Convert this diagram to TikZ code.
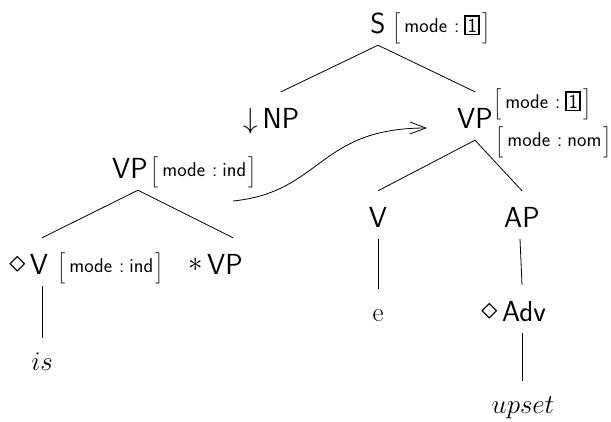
\documentclass[tikz,border=0pt]{standalone}
\usepackage{fix-cm}
\usepackage{amsmath}
\usetikzlibrary{arrows.meta}

% feature structures and boxed tags
\newcommand{\fbrack}[1]{{\fontsize{16}{18}\selectfont$\Big#1$}}
\newcommand{\feat}[2]{\fbrack{[}\hspace{4pt}#1\hspace{7pt}:\hspace{5pt}#2\hspace{2pt}\fbrack{]}}
\newcommand{\tagbox}[1]{{\setlength{\fboxsep}{1.5pt}\setlength{\fboxrule}{1.6pt}\fbox{#1}}}

\begin{document}
\begin{tikzpicture}[x=1pt, y=-1pt,
  cat/.style={font=\fontsize{29}{34}\selectfont\sffamily, text height=24pt, text depth=0pt,
              inner xsep=3pt, inner ysep=12pt, anchor=base},
  leaf/.style={font=\fontsize{27}{32}\selectfont, text height=20pt, text depth=0pt,
               inner xsep=3pt, inner ysep=12pt, anchor=base},
  feat/.style={font=\fontsize{20}{24}\selectfont\sffamily, inner sep=0pt, anchor=west},
  pre/.style={font=\fontsize{29}{34}\selectfont, inner sep=1pt, yshift=-3pt},
  branch/.style={line width=0.8pt},
  adjoin/.style={line width=0.8pt, -{Straight Barb[length=16pt,width=12pt]}}]
  \useasboundingbox (0,0) rectangle (611,421);

  % initial tree
  \node[cat] (S) at (378,33) {S};
  \node[feat] (fS) at (392,28) {\feat{mode}{\tagbox{1}}};
  \node[cat, label={[pre,yshift=-2pt]left:$\downarrow$}] (NP) at (281,128) {NP};
  \node[cat] (VPr) at (475,128) {VP};
  \node[feat] (fVPa) at (493,104) {\feat{mode}{\tagbox{1}}};
  \node[feat] (fVPb) at (495,142) {\feat{mode}{nom}};
  \node[cat] (Vr) at (378,227) {V};
  \node[cat] (AP) at (522,227) {AP};
  \node[leaf] (e) at (378,321) {e};
  \node[cat, label={[pre,font=\fontsize{33}{38}\selectfont]left:$\diamond$}] (Adv) at (524,321) {Adv};
  \node[leaf] (upset) at (523,413) {$upset$};

  \draw[branch] (S.south) -- (NP.north);
  \draw[branch] (S.south) -- (VPr.north);
  \draw[branch] (VPr.south) -- (Vr.north);
  \draw[branch] (VPr.south) -- (AP.north);
  \draw[branch] (Vr.south) -- (e.north);
  \draw[branch] ([xshift=-2pt]Adv.north) -- ([xshift=-2pt]AP.south);
  \draw[branch] ([xshift=-2pt]Adv.south) -- ([xshift=-1pt]upset.north);

  % auxiliary tree
  \node[cat] (VPl) at (130,178) {VP};
  \node[feat] (fVPl) at (150,172) {\feat{mode}{ind}};
  \node[cat, label={[pre,font=\fontsize{33}{38}\selectfont]left:$\diamond$}] (Vl) at (39,274) {V};
  \node[feat] (fVl) at (57,268) {\feat{mode}{ind}};
  \node[cat, label={[pre]left:$\ast$}] (foot) at (225,274) {VP};
  \node[leaf] (is) at (42,370) {$is$};

  \draw[branch] ([xshift=8pt]VPl.south) -- ([xshift=3pt]Vl.north);
  \draw[branch] ([xshift=8pt]VPl.south) -- ([xshift=8pt]foot.north);
  \draw[branch] ([xshift=3pt]Vl.south) -- (is.north);

  % adjunction
  \coordinate (adjS) at (233,201);
  \coordinate (adjT) at (427,128);
  \draw[adjoin] (adjS) .. controls (322,192) and (318,128) .. (adjT);
\end{tikzpicture}
\end{document}
